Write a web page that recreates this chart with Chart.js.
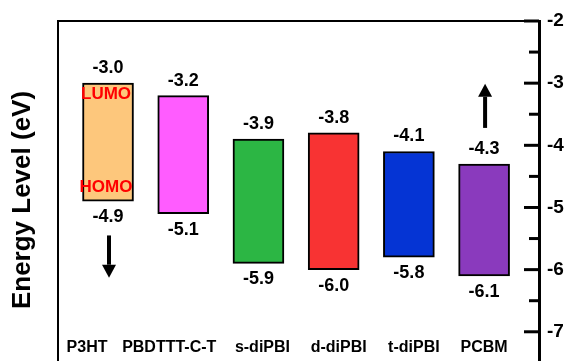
<!DOCTYPE html>
<html>
<head>
<meta charset="utf-8">
<script src="https://cdn.jsdelivr.net/npm/chart.js@4.4.0/dist/chart.umd.min.js"></script>
<style>
  html, body { margin: 0; padding: 0; background: #fff; }
  #wrap { width: 569px; height: 361px; }
</style>
</head>
<body>
<div id="wrap"><canvas id="chart" width="569" height="361"></canvas></div>
<script>
const categories = ['P3HT', 'PBDTTT-C-T', 's-diPBI', 'd-diPBI', 't-diPBI', 'PCBM'];
const lumo = [-3.0, -3.2, -3.9, -3.8, -4.1, -4.3];
const homo = [-4.9, -5.1, -5.9, -6.0, -5.8, -6.1];
const barColors = ['#fdc77c', '#ff5cff', '#2cb644', '#f83333', '#0534d4', '#8a3abd'];
const yTicks = [-2, -3, -4, -5, -6, -7];
// arrows: [category index, from (eV), to (eV)]
const arrows = [[0, -5.45, -6.13], [5, -3.72, -3.01]];

const fontFamily = '"Liberation Sans", Arial, sans-serif';
// small horizontal shifts of the bottom labels, as in the original figure
const labelShift = [-21, -14, 4, 5, 5, 0];

const decorPlugin = {
    id: 'decor',
    afterDatasetsDraw(chart) {
        const ctx = chart.ctx;
        const area = chart.chartArea;
        const xs = chart.scales.x;
        const ys = chart.scales.y;
        ctx.save();

        // frame (top + left), the right one is the y axis border
        ctx.strokeStyle = '#000';
        ctx.lineWidth = 2;
        ctx.beginPath();
        ctx.moveTo(area.left, area.bottom);
        ctx.lineTo(area.left, area.top);
        ctx.lineTo(area.right, area.top);
        ctx.stroke();

        // inward ticks on the right axis
        ctx.lineWidth = 3;
        yTicks.forEach(v => {
            const y = ys.getPixelForValue(v);
            ctx.beginPath();
            ctx.moveTo(area.right - 15, y);
            ctx.lineTo(area.right, y);
            ctx.stroke();
            const m = v - 0.5;
            if (m >= ys.min) {
                const ym = ys.getPixelForValue(m);
                ctx.beginPath();
                ctx.moveTo(area.right - 10, ym);
                ctx.lineTo(area.right, ym);
                ctx.stroke();
            }
        });

        // value labels
        ctx.fillStyle = '#000';
        ctx.textAlign = 'center';
        ctx.textBaseline = 'middle';
        ctx.font = 'bold 18px ' + fontFamily;
        categories.forEach((c, i) => {
            const x = xs.getPixelForValue(i);
            ctx.fillText(lumo[i].toFixed(1), x, ys.getPixelForValue(lumo[i]) - 15);
            ctx.fillText(homo[i].toFixed(1), x, ys.getPixelForValue(homo[i]) + 16);
        });

        // category names along the bottom
        ctx.font = 'bold 16px ' + fontFamily;
        ctx.textBaseline = 'alphabetic';
        categories.forEach((c, i) => {
            ctx.fillText(c, xs.getPixelForValue(i) + labelShift[i], area.bottom - 9);
        });

        // LUMO / HOMO tags in the first bar
        ctx.fillStyle = '#ff0000';
        ctx.font = 'bold 17px ' + fontFamily;
        ctx.textBaseline = 'middle';
        const x0 = xs.getPixelForValue(0) - 2;
        ctx.fillText('LUMO', x0, ys.getPixelForValue(lumo[0]) + 11);
        ctx.fillText('HOMO', x0, ys.getPixelForValue(homo[0]) - 14);

        // arrows
        ctx.fillStyle = '#000';
        ctx.strokeStyle = '#000';
        arrows.forEach(([i, from, to]) => {
            const x = xs.getPixelForValue(i) + 1;
            const y1 = ys.getPixelForValue(from);
            const y2 = ys.getPixelForValue(to);
            const dir = y2 > y1 ? 1 : -1;
            const head = 13;
            ctx.lineWidth = 4;
            ctx.beginPath();
            ctx.moveTo(x, y1);
            ctx.lineTo(x, y2 - dir * head);
            ctx.stroke();
            ctx.beginPath();
            ctx.moveTo(x, y2);
            ctx.lineTo(x - 7, y2 - dir * head);
            ctx.lineTo(x + 7, y2 - dir * head);
            ctx.closePath();
            ctx.fill();
        });

        // y title
        ctx.save();
        ctx.translate(23, 200);
        ctx.rotate(-Math.PI / 2);
        ctx.font = 'bold 26px ' + fontFamily;
        ctx.textAlign = 'center';
        ctx.textBaseline = 'middle';
        ctx.fillText('Energy Level (eV)', 0, 0);
        ctx.restore();

        ctx.restore();
    }
};

new Chart(document.getElementById('chart'), {
    type: 'bar',
    data: {
        datasets: [{
            data: categories.map((c, i) => ({ x: i, y: [homo[i], lumo[i]] })),
            backgroundColor: barColors,
            borderColor: '#000',
            borderWidth: 2,
            borderSkipped: false,
            barThickness: 51
        }]
    },
    options: {
        responsive: false,
        animation: false,
        layout: { padding: { left: 58, top: 21, right: 0, bottom: 0 } },
        plugins: {
            legend: { display: false },
            tooltip: { enabled: false }
        },
        scales: {
            x: {
                type: 'linear',
                min: -0.665,
                max: 5.73,
                offset: false,
                display: false
            },
            y: {
                type: 'linear',
                position: 'right',
                min: -7.47,
                max: -2,
                afterFit: (s) => {
                    s.width = 30;
                    s.paddingTop = 0;
                    s.paddingBottom = 0;
                },
                ticks: {
                    stepSize: 1,
                    includeBounds: false,
                    padding: 8,
                    color: '#000',
                    font: { family: fontFamily, size: 19, weight: 'bold' }
                },
                grid: { display: false, drawTicks: false },
                border: { display: true, color: '#000', width: 3 }
            }
        }
    },
    plugins: [decorPlugin]
});
</script>
</body>
</html>
